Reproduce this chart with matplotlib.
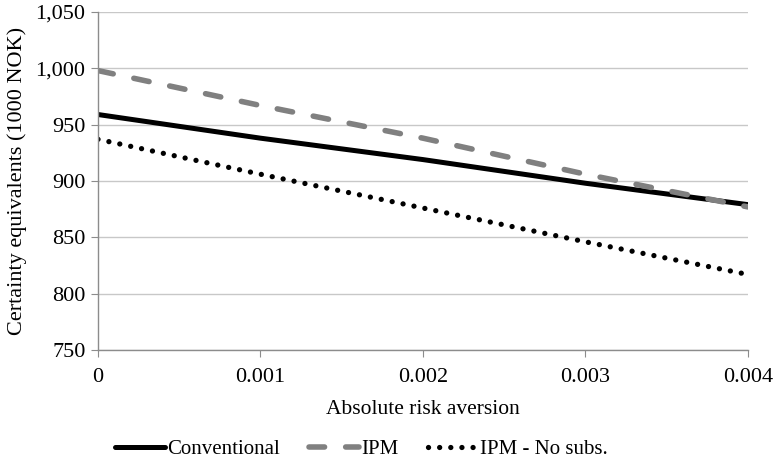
import numpy as np
import matplotlib
matplotlib.use("Agg")
import matplotlib.pyplot as plt
from matplotlib.ticker import FuncFormatter

plt.rcParams['font.family'] = ['Liberation Serif', 'DejaVu Serif']

# data
risk_aversion = [0.0, 0.001, 0.002, 0.003, 0.004]
conventional = [959, 938, 919, 898, 879]
ipm = [998, 967, 938, 906, 877]
ipm_no_subs = [937, 906, 876, 846, 817]

fig = plt.figure(figsize=(7.74, 4.61), dpi=100)
ax = fig.add_axes([0.1266, 0.2408, 0.8398, 0.7332])

ax.plot(risk_aversion, conventional, color='black', lw=3.6,
        solid_capstyle='round', label='Conventional')
ax.plot(risk_aversion, ipm, color='#808080', lw=4.0,
        linestyle=(0, (2.8, 3.8)), dash_capstyle='round', label='IPM')
ax.plot(risk_aversion, ipm_no_subs, color='black', lw=3.8,
        linestyle=(0, (0.01, 2.1)), dash_capstyle='round', label='IPM - No subs.')

ax.set_xlim(0, 0.004)
ax.set_ylim(750, 1050)
ax.set_xticks([0, 0.001, 0.002, 0.003, 0.004])
ax.set_xticklabels(['0', '0.001', '0.002', '0.003', '0.004'])
ax.set_yticks(np.arange(750, 1051, 50))
ax.yaxis.set_major_formatter(FuncFormatter(lambda v, p: f'{int(v):,}'))

ax.grid(axis='y', color='#c8c8c8', lw=1.0)
ax.set_axisbelow(True)
for s in ['top', 'right']:
    ax.spines[s].set_visible(False)
for s in ['left', 'bottom']:
    ax.spines[s].set_color('#8c8c8c')
    ax.spines[s].set_linewidth(1.0)

ax.tick_params(axis='y', length=5, color='#8c8c8c', labelsize=16, pad=4)
ax.tick_params(axis='x', length=5, color='#8c8c8c', labelsize=16, pad=8)

ax.set_xlabel('Absolute risk aversion', fontsize=15.5, labelpad=9)
ax.set_ylabel('Certainty equivalents (1000 NOK)', fontsize=16, labelpad=6)

fig.legend(loc='center', bbox_to_anchor=(0.467, 0.026), ncol=3, frameon=False,
           fontsize=15, handlelength=2.4, handletextpad=0.1, columnspacing=1.4)

fig.savefig('out.png', dpi=100)
